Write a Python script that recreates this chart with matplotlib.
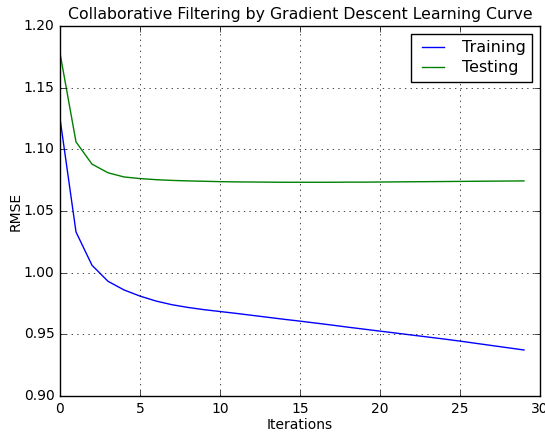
import matplotlib
matplotlib.use("Agg")
import matplotlib.pyplot as plt

plt.style.use("classic")

iterations = list(range(30))
training = [1.125, 1.033, 1.006, 0.993, 0.986, 0.981, 0.977, 0.974, 0.9718, 0.9700,
            0.9685, 0.9670, 0.9654, 0.9638, 0.9622, 0.9607, 0.9591, 0.9575, 0.9558, 0.9542,
            0.9526, 0.9510, 0.9494, 0.9478, 0.9462, 0.9445, 0.9427, 0.9409, 0.9391, 0.9373]
testing = [1.178, 1.106, 1.088, 1.081, 1.0776, 1.0763, 1.0754, 1.0748, 1.0744, 1.0741,
           1.0738, 1.0736, 1.0735, 1.0734, 1.0733, 1.0733, 1.0733, 1.0733, 1.0734, 1.0734,
           1.0735, 1.0736, 1.0737, 1.0738, 1.0739, 1.0740, 1.0741, 1.0742, 1.0743, 1.0744]

fig = plt.figure(figsize=(5.45, 4.32), dpi=100, facecolor="white")
ax = fig.add_axes([60/545, 1 - 396/432, (540-60)/545, (396-26)/432])
ax.plot(iterations, training, color="b", label="Training")
ax.plot(iterations, testing, color="g", label="Testing")
ax.set_xlim(0, 30)
ax.set_ylim(0.90, 1.20)
ax.grid(True)
ax.set_title("Collaborative Filtering by Gradient Descent Learning Curve", fontsize=11.3)
ax.set_xlabel("Iterations", fontsize=10, labelpad=2)
ax.set_ylabel("RMSE", fontsize=10, labelpad=1)
ax.tick_params(labelsize=10)
ax.yaxis.set_major_formatter(matplotlib.ticker.FormatStrFormatter("%.2f"))
ax.legend(loc="upper right", fontsize=11.5, labelspacing=0.3, borderaxespad=0.5)
fig.savefig("out.png", dpi=100, facecolor="white")
